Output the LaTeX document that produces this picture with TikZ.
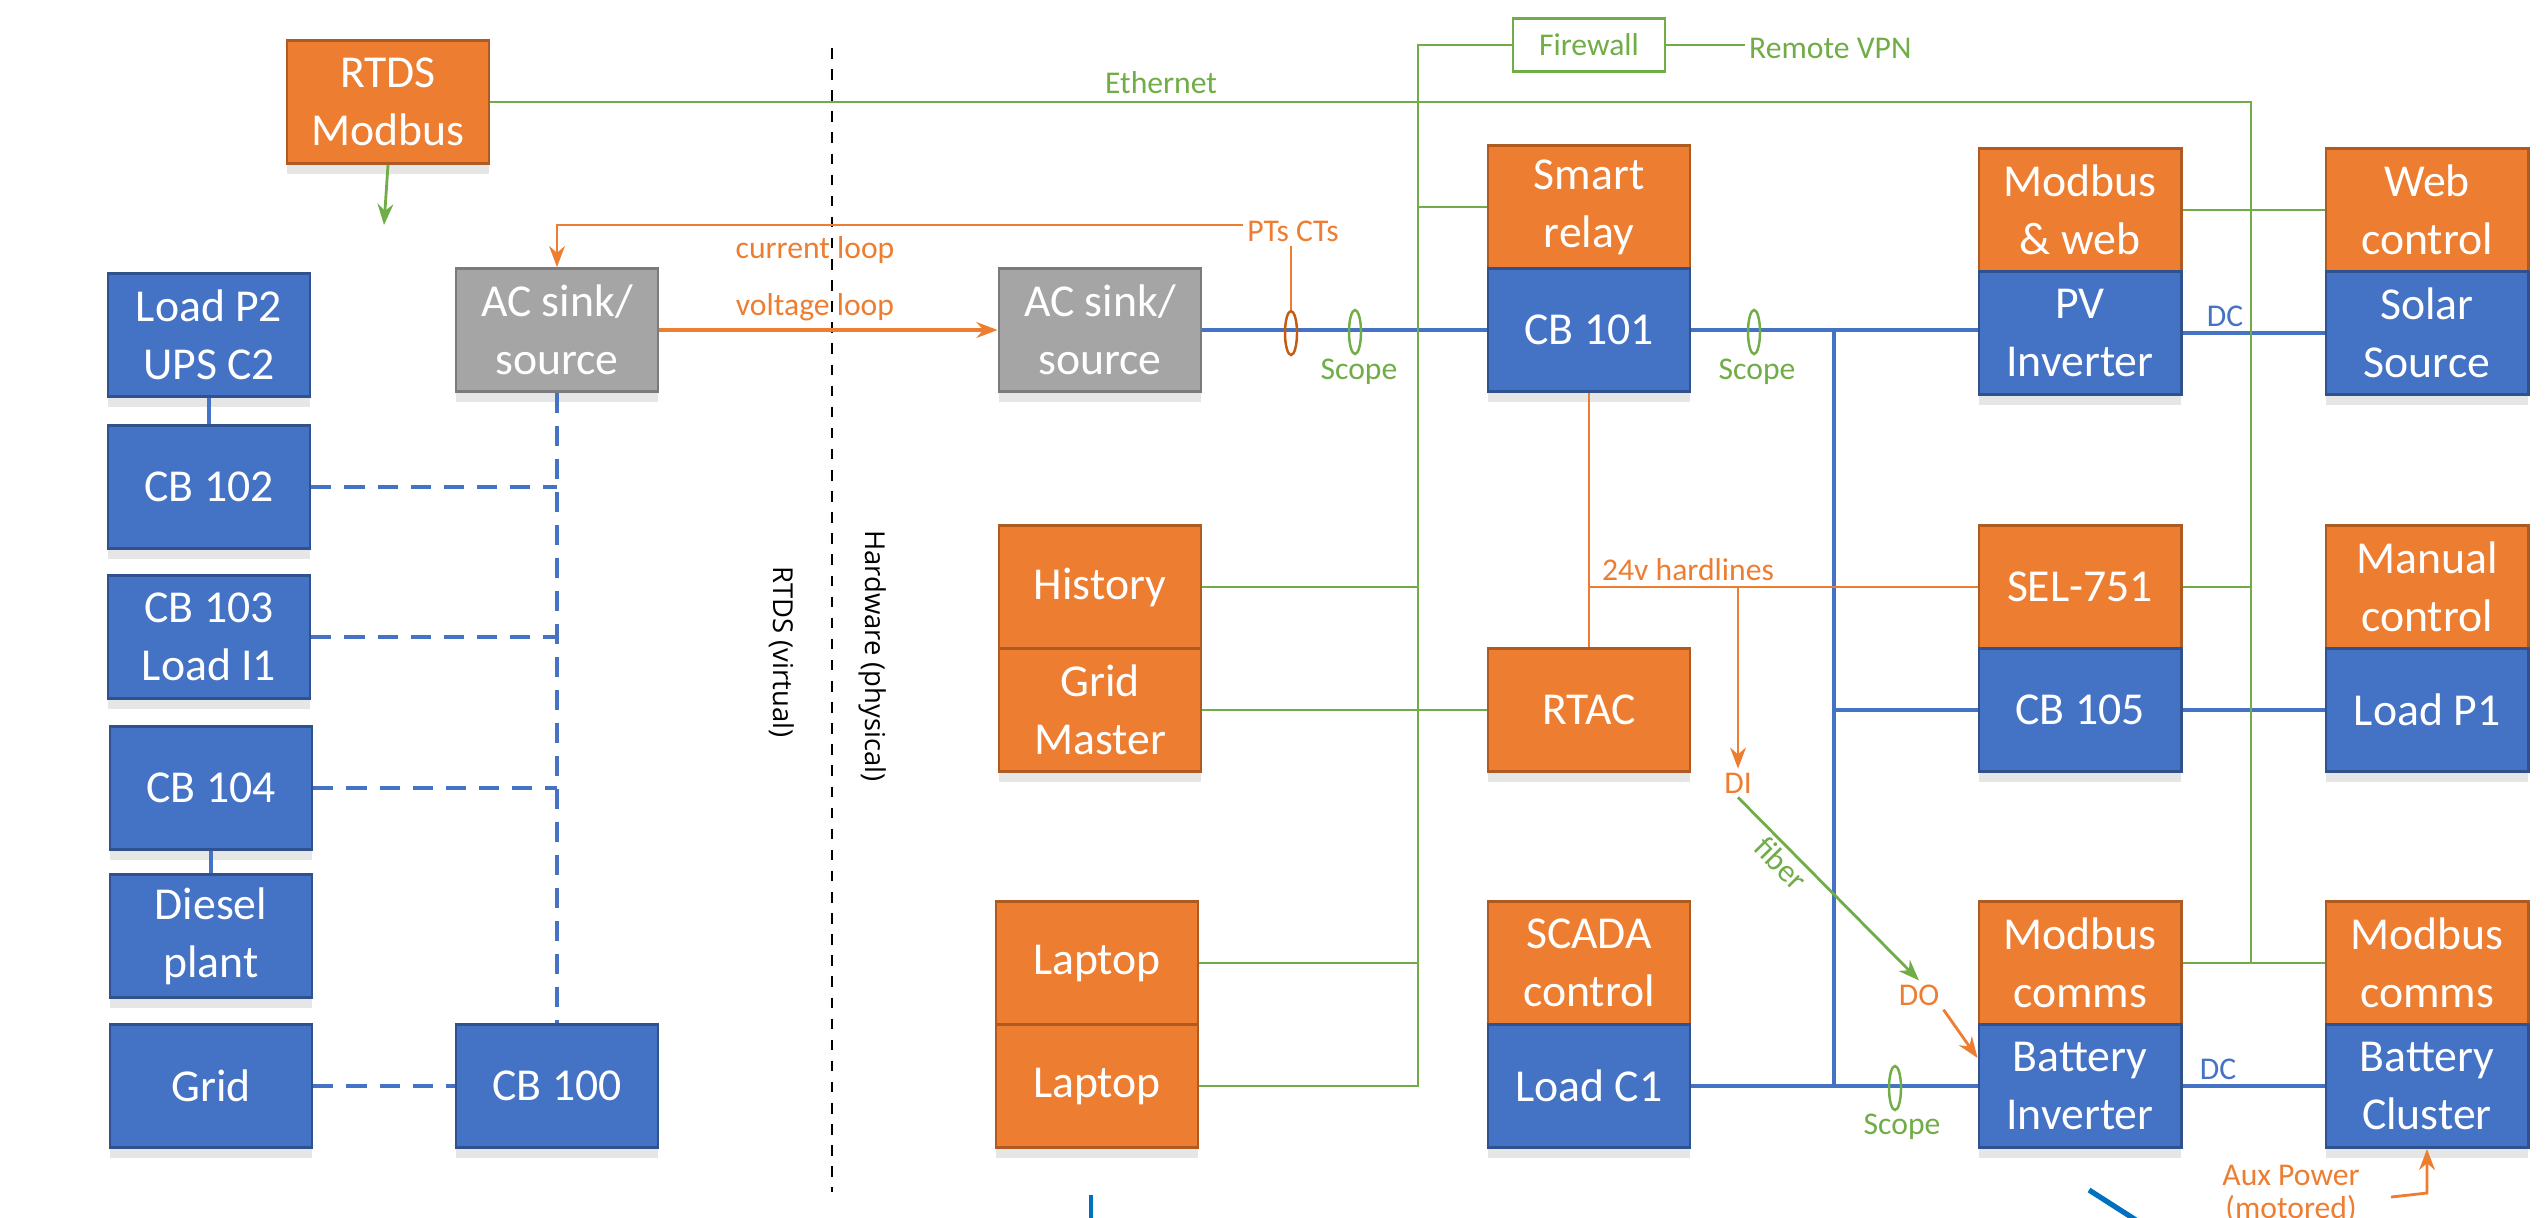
\documentclass[tikz,border=0pt]{standalone}
\usepackage{fontspec}
\setmainfont{Carlito}
\newfontfamily\sidefont{Open Sans}
\usetikzlibrary{arrows.meta,shapes.geometric,shadows}

\definecolor{hwblue}{HTML}{4472C4}
\definecolor{hwblueD}{HTML}{2F528F}
\definecolor{ctlorange}{HTML}{ED7D31}
\definecolor{ctlorangeD}{HTML}{AE5A21}
\definecolor{srcgrey}{HTML}{A5A5A5}
\definecolor{srcgreyD}{HTML}{7B7B7B}
\definecolor{netgreen}{HTML}{70AD47}
\definecolor{ringbrown}{HTML}{C55A11}
\definecolor{stubblue}{HTML}{0070C0}

\tikzset{
  boxbase/.style={minimum width=2.02cm, minimum height=1.23cm, inner sep=0pt,
    align=center, text=white, line width=0.8pt,
    font=\fontsize{13}{16.5}\selectfont,
    drop shadow={shadow xshift=0pt, shadow yshift=-3pt, opacity=0.2}},
  hwbox/.style={boxbase, fill=hwblue, draw=hwblueD},
  ctlbox/.style={boxbase, fill=ctlorange, draw=ctlorangeD},
  srcbox/.style={boxbase, fill=srcgrey, draw=srcgreyD},
  fwbox/.style={draw=netgreen, fill=white, line width=0.8pt, text=netgreen,
    minimum width=1.52cm, minimum height=0.53cm, font=\fontsize{9}{11}\selectfont},
  lbl/.style={font=\fontsize{9}{9.5}\selectfont, inner sep=1pt},
  sidelbl/.style={rotate=-90, font=\sidefont\fontsize{7.8}{9}\selectfont},
  eth/.style={draw=netgreen, line width=0.6pt},
  sig/.style={draw=ctlorange, line width=0.6pt},
  bus/.style={draw=hwblue, line width=1.4pt},
  simlink/.style={draw=hwblue, line width=1.3pt, dash pattern=on 0.2cm off 0.13cm},
  ring/.style={ellipse, minimum width=0.12cm, minimum height=0.44cm, inner sep=0pt, line width=0.7pt},
}

\begin{document}
\begin{tikzpicture}[x=0.01cm, y=-0.01cm, >={Stealth[length=6pt,width=4.5pt]}]
    \useasboundingbox (0,0) rectangle (2546,1217);

    % RTDS side (virtual)
    \node[ctlbox] (rtds) at (388,102) {RTDS\\Modbus};
    \node[hwbox] (loadp2) at (209,335) {Load P2\\UPS C2};
    \node[hwbox] (cb102) at (209,487) {CB 102};
    \node[hwbox] (cb103) at (209,637) {CB 103\\Load I1};
    \node[hwbox] (cb104) at (211,788) {CB 104};
    \node[hwbox] (diesel) at (211,936) {Diesel\\plant};
    \node[hwbox] (grid) at (211,1086) {Grid};
    \node[hwbox] (cb100) at (557,1086) {CB 100};
    \node[srcbox] (acsim) at (557,330) {AC sink/\\source};

    % hardware side (physical)
    \node[srcbox] (acamp) at (1100,330) {AC sink/\\source};
    \node[ctlbox] (history) at (1100,587) {History};
    \node[ctlbox] (gridmaster) at (1100,710) {Grid\\Master};
    \node[ctlbox] (laptopA) at (1097,963) {Laptop};
    \node[ctlbox] (laptopB) at (1097,1086) {Laptop};
    \node[ctlbox] (relay) at (1589,207) {Smart\\relay};
    \node[hwbox] (cb101) at (1589,330) {CB 101};
    \node[ctlbox] (rtac) at (1589,710) {RTAC};
    \node[ctlbox] (scada) at (1589,963) {SCADA\\control};
    \node[hwbox] (loadc1) at (1589,1086) {Load C1};
    \node[ctlbox] (pvcomm) at (2080,210) {Modbus\\\& web};
    \node[hwbox] (pvinv) at (2080,333) {PV\\Inverter};
    \node[ctlbox] (webctl) at (2427,210) {Web\\control};
    \node[hwbox] (solar) at (2427,333) {Solar\\Source};
    \node[ctlbox] (sel) at (2080,587) {SEL-751};
    \node[hwbox] (cb105) at (2080,710) {CB 105};
    \node[ctlbox] (manual) at (2427,587) {Manual\\control};
    \node[hwbox] (loadp1) at (2427,710) {Load P1};
    \node[ctlbox] (bicomm) at (2080,963) {Modbus\\comms};
    \node[hwbox] (batinv) at (2080,1086) {Battery\\Inverter};
    \node[ctlbox] (bccomm) at (2427,963) {Modbus\\comms};
    \node[hwbox] (batclu) at (2427,1086) {Battery\\Cluster};

    % divider
    \coordinate (divtop) at (832,48);
    \coordinate (divbot) at (832,1192);
    \draw[dashed, line width=0.4pt] (divtop) -- (divbot);
    \node[sidelbl] (virt) at (782,652) {RTDS (virtual)};
    \node[sidelbl] (phys) at (873,656) {Hardware (physical)};

    % simulated network
    \coordinate (modbusend) at (384,225);
    \draw[eth, line width=0.8pt, ->] (rtds.south) -- (modbusend);
    \draw[draw=hwblue, line width=0.9pt] (loadp2) -- (cb102);
    \draw[draw=hwblue, line width=0.9pt] (cb104) -- (diesel);
    \draw[simlink] (cb102.east) -- (cb102.east -| acsim.south);
    \draw[simlink] (cb103.east) -- (cb103.east -| acsim.south);
    \draw[simlink] (cb104.east) -- (cb104.east -| acsim.south);
    \draw[simlink] (acsim.south) -- (cb100.north);
    \draw[simlink] (grid) -- (cb100);

    % amplifier loops
    \node[lbl, text=ctlorange] (ptct) at (1293,231) {PTs CTs};
    \node[lbl, text=ctlorange] (curloop) at (815,250) {current loop};
    \node[lbl, text=ctlorange] (voltloop) at (815,307) {voltage loop};
    \draw[sig, ->] ([yshift=0.06cm]ptct.west) -- ([yshift=0.06cm]ptct.west -| acsim.north) -- (acsim.north);
    \draw[sig, line width=0.9pt, ->] (acsim.east) -- (acamp.west);

    % power bus
    \coordinate (bustop) at (1834,330);
    \coordinate (busbot) at (1834,1086);
    \draw[bus] (acamp.east) -- (cb101.west);
    \draw[bus] (cb101.east) -- (cb101.east -| pvinv.west);
    \draw[bus] (bustop) -- (busbot);
    \draw[bus] (cb105.west -| bustop) -- (cb105.west);
    \draw[bus] (cb105) -- (loadp1);
    \draw[bus] (loadc1.east) -- (batinv.west);
    \draw[bus] (pvinv) -- node[lbl, above, text=hwblue, pos=0.3] {DC} (solar);
    \draw[bus] (batinv) -- node[lbl, above, text=hwblue, pos=0.25] {DC} (batclu);

    % PT/CT and scopes
    \node[ring, draw=ringbrown] (ptring) at (1291,333) {};
    \draw[sig] (ptring.north |- ptct.south) -- (ptring.north);
    \node[ring, draw=netgreen] (scopeA) at (1355,332) {};
    \node[lbl, text=netgreen] (scopeAlbl) at (1359,372) {Scope};
    \node[ring, draw=netgreen] (scopeB) at (1754,332) {};
    \node[lbl, text=netgreen] (scopeBlbl) at (1757,372) {Scope};
    \node[ring, draw=netgreen] (scopeC) at (1895,1088) {};
    \node[lbl, text=netgreen] (scopeClbl) at (1902,1127) {Scope};

    % ethernet
    \coordinate (ethcorner) at (2251,101);
    \node[lbl, text=netgreen] (ethlbl) at (1161,83) {Ethernet};
    \draw[eth] (rtds.east) -- (rtds.east -| ethcorner) -- (ethcorner |- bicomm.east);
    \draw[eth] (pvcomm.east) -- (webctl.west);
    \draw[eth] (sel.east) -- (sel.east -| ethcorner);
    \draw[eth] (bicomm.east) -- (bccomm.west);

    % firewall and LAN
    \node[fwbox] (fw) at (1589,45) {Firewall};
    \node[lbl, text=netgreen, anchor=west] (vpn) at (1745,48) {Remote VPN};
    \coordinate (lantop) at (1418,45);
    \draw[eth] (fw.east) -- (fw.east -| vpn.west);
    \draw[eth] (fw.west) -- (lantop) -- (lantop |- laptopB.east) -- (laptopB.east);
    \draw[eth] (relay.west -| lantop) -- (relay.west);
    \draw[eth] (history.east) -- (history.east -| lantop);
    \draw[eth] (laptopA.east) -- (laptopA.east -| lantop);
    \draw[eth] (gridmaster.east) -- (rtac.west);

    % hardlines
    \coordinate (hardjoin) at (cb101.south |- sel.west);
    \draw[sig] (cb101.south) -- (rtac.north);
    \draw[sig] (hardjoin) -- (sel.west);
    \node[lbl, text=ctlorange] (hardlbl) at (1688,570) {24v hardlines};
    \node[lbl, text=ctlorange] (din) at (1738,783) {DI};
    \node[lbl, text=ctlorange] (dout) at (1919,995) {DO};
    \draw[sig, line width=0.8pt, ->] (din.north |- sel.west) -- (din.north);
    \draw[eth, line width=0.8pt, ->] (din.south) -- node[lbl, sloped, below, pos=0.3, text=netgreen] {fiber} (dout.north);
    \draw[sig, line width=0.8pt, ->] (dout.south east) -- ([yshift=0.28cm]batinv.west);

    % aux power
    \node[lbl, text=ctlorange, align=center] (aux) at (2291,1194) {Aux Power\\(motored)};
    \coordinate (auxtail) at (2391,1197);
    \coordinate (auxbend) at (2426,1193);
    \draw[sig, line width=0.8pt, ->] (auxtail) -- (batclu.south |- auxbend) -- (batclu.south);

    % cut-off strokes at the lower edge
    \coordinate (stubA) at (1091,1195);
    \coordinate (stubB) at (2089,1190);
    \draw[stubblue, line width=1.2pt] (stubA) -- (stubA |- 0,1230);
    \draw[stubblue, line width=1.5pt] (stubB) -- ++(50,32);
\end{tikzpicture}
\end{document}
